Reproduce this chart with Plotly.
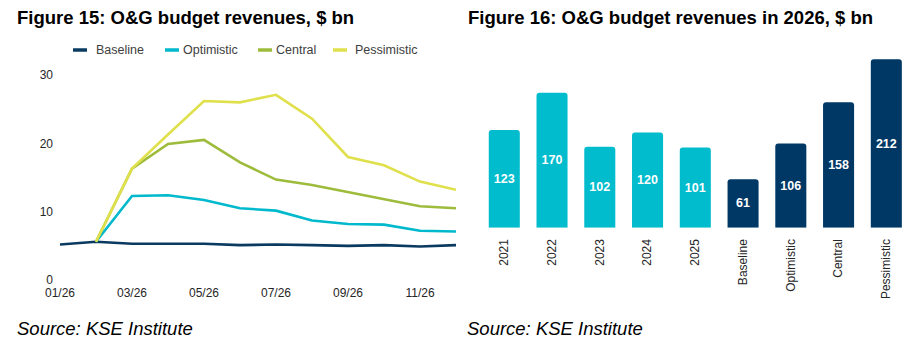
import plotly.graph_objects as go

# ---------------- data ----------------
months = ["01/26", "02/26", "03/26", "04/26", "05/26", "06/26",
          "07/26", "08/26", "09/26", "10/26", "11/26", "12/26"]
month_ticks = ["01/26", "03/26", "05/26", "07/26", "09/26", "11/26"]
baseline = [5.2, 5.6, 5.3, 5.3, 5.3, 5.1, 5.2, 5.1, 5.0, 5.1, 4.9, 5.1]
optimistic = [None, 5.6, 12.3, 12.4, 11.7, 10.5, 10.15, 8.7, 8.2, 8.1, 7.2, 7.1]
central = [None, 5.6, 16.3, 19.9, 20.5, 17.2, 14.7, 13.9, 12.9, 11.8, 10.8, 10.5]
pessimistic = [None, 5.6, 16.3, 21.3, 26.2, 26.0, 27.1, 23.6, 18.0, 16.8, 14.4, 13.2]
series_names = ["Baseline", "Optimistic", "Central", "Pessimistic"]

bar_categories = ["2021", "2022", "2023", "2024", "2025",
                  "Baseline", "Optimistic", "Central", "Pessimistic"]
bar_values = [123, 170, 102, 120, 101, 61, 106, 158, 212]

# ---------------- style ----------------
FONT = "Liberation Sans, Arial, sans-serif"
C_BASE = "#0b3a60"
C_OPT = "#00b9cc"
C_CEN = "#9dbc3c"
C_PES = "#dfe04b"
BAR_HIST = "#00bccd"
BAR_SCEN = "#003865"
TXT = "#262626"
W, H = 922, 362

colors = [C_BASE, C_OPT, C_CEN, C_PES]
series = [baseline, optimistic, central, pessimistic]

fig = go.Figure()
for name, vals, col in zip(series_names, series, colors):
    fig.add_trace(go.Scatter(x=months, y=vals, name=name, mode="lines",
                             line=dict(color=col, width=2.6),
                             connectgaps=False, showlegend=False,
                             xaxis="x", yaxis="y"))

bar_colors = [BAR_HIST] * 5 + [BAR_SCEN] * 4
fig.add_trace(go.Bar(x=bar_categories, y=bar_values,
                     marker=dict(color=bar_colors, cornerradius=3, line=dict(width=0)),
                     text=[str(v) for v in bar_values], textposition="inside",
                     insidetextanchor="middle", textangle=0,
                     textfont=dict(family=FONT, size=12.5, color="white", weight="bold"),
                     width=0.65, showlegend=False, xaxis="x2", yaxis="y2"))

def px_x(p):
    return p / W

def px_y(p):
    return 1 - p / H

fig.update_layout(
    width=W, height=H,
    margin=dict(l=0, r=0, t=0, b=0, pad=0, autoexpand=False),
    paper_bgcolor="white", plot_bgcolor="white",
    font=dict(family=FONT, size=12, color=TXT),
    xaxis=dict(domain=[px_x(60), px_x(456)], type="category", anchor="y",
               categoryorder="array", categoryarray=months,
               range=[0, 11], tickmode="array", tickvals=month_ticks,
               showgrid=False, zeroline=False, showline=False, ticks="",
               automargin=False,
               tickfont=dict(size=12, color=TXT), ticklabelstandoff=4),
    yaxis=dict(domain=[px_y(280), px_y(75)], range=[0, 30], tickvals=[0, 10, 20, 30],
               anchor="x", automargin=False,
               showgrid=False, zeroline=False, showline=False, ticks="",
               tickfont=dict(size=12, color=TXT), ticklabelstandoff=6),
    xaxis2=dict(domain=[px_x(480.4), px_x(910.2)], type="category", anchor="y2",
                range=[-0.5, 8.5], tickangle=-90, automargin=False,
                showgrid=False, zeroline=False, showline=False, ticks="",
                tickfont=dict(size=12, color=TXT), ticklabelstandoff=8),
    yaxis2=dict(domain=[px_y(227.7), px_y(53)], range=[0, 220], anchor="x2",
                automargin=False, visible=False),
    bargap=0.35,
)

annotations = [
    dict(text="<b>Figure 15: O&amp;G budget revenues, $ bn</b>", x=px_x(15), y=px_y(17.5),
         xanchor="left", yanchor="middle", font=dict(size=18.5, color="#000")),
    dict(text="<b>Figure 16: O&amp;G budget revenues in 2026, $ bn</b>", x=px_x(466), y=px_y(17.5),
         xanchor="left", yanchor="middle", font=dict(size=18.5, color="#000")),
    dict(text="<i>Source: KSE Institute</i>", x=px_x(15), y=px_y(328),
         xanchor="left", yanchor="middle", font=dict(size=18.5, color="#000")),
    dict(text="<i>Source: KSE Institute</i>", x=px_x(465), y=px_y(328),
         xanchor="left", yanchor="middle", font=dict(size=18.5, color="#000")),
]
for a in annotations:
    a.update(xref="paper", yref="paper", showarrow=False)

# legend (symbol shapes + labels)
legend_sym_x = [73, 165, 258, 333]
legend_txt_x = [94, 181, 274, 353]
shapes = []
for name, col, sx, tx in zip(series_names, colors, legend_sym_x, legend_txt_x):
    shapes.append(dict(type="line", xref="paper", yref="paper",
                       x0=px_x(sx), x1=px_x(sx + 14), y0=px_y(50), y1=px_y(50),
                       line=dict(color=col, width=3.5)))
    annotations.append(dict(text=name, xref="paper", yref="paper", showarrow=False,
                            x=px_x(tx), y=px_y(50), xanchor="left", yanchor="middle",
                            font=dict(size=12.5, color="#404040")))

fig.update_layout(annotations=annotations, shapes=shapes)

fig.write_html("out.html", config={"displayModeBar": False},
               post_script="document.body.style.margin='0';document.body.style.padding='0';")
